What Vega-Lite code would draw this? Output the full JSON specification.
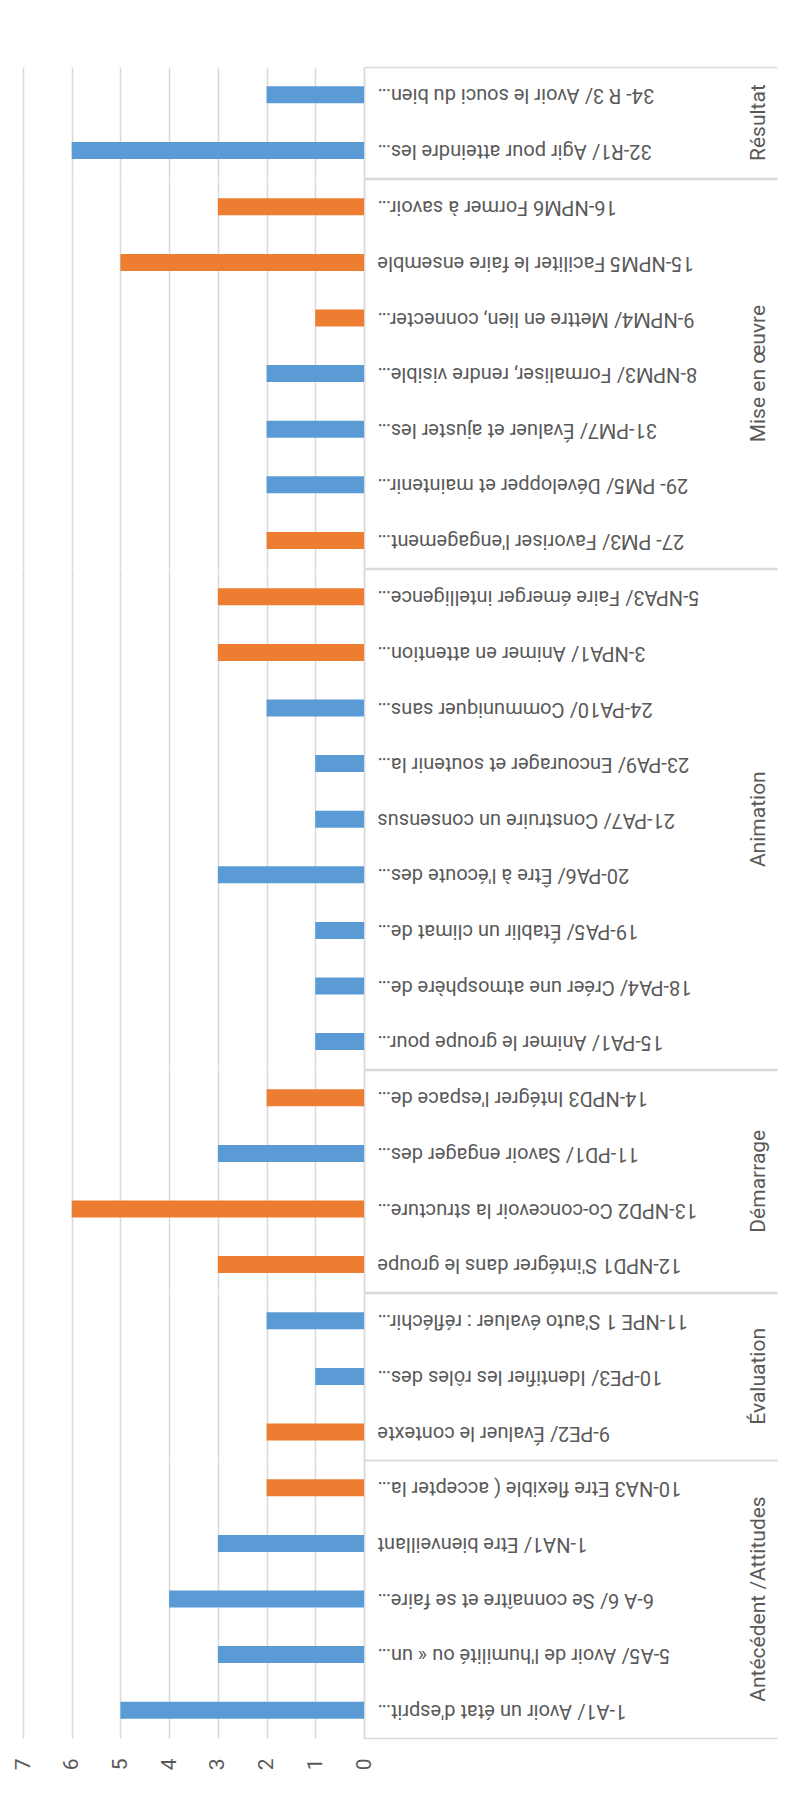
{
  "$schema": "https://vega.github.io/schema/vega-lite/v6.json",
  "background": "white",
  "padding": {"left": 12, "top": 57, "right": 0, "bottom": 0},
  "data": {
    "values": [
      {"etape": "Résultat", "critere": "34- R 3/ Avoir le souci du bien…", "serie": "Série 1", "valeur": 2},
      {"etape": "Résultat", "critere": "32-R1/ Agir pour atteindre les…", "serie": "Série 1", "valeur": 6},
      {"etape": "Mise en œuvre", "critere": "16-NPM6 Former à savoir…", "serie": "Série 2", "valeur": 3},
      {"etape": "Mise en œuvre", "critere": "15-NPM5 Faciliter le faire ensemble", "serie": "Série 2", "valeur": 5},
      {"etape": "Mise en œuvre", "critere": "9-NPM4/ Mettre en lien, connecter…", "serie": "Série 2", "valeur": 1},
      {"etape": "Mise en œuvre", "critere": "8-NPM3/ Formaliser, rendre visible…", "serie": "Série 1", "valeur": 2},
      {"etape": "Mise en œuvre", "critere": "31-PM7/ Évaluer et ajuster les…", "serie": "Série 1", "valeur": 2},
      {"etape": "Mise en œuvre", "critere": "29- PM5/ Développer et maintenir…", "serie": "Série 1", "valeur": 2},
      {"etape": "Mise en œuvre", "critere": "27- PM3/ Favoriser l'engagement…", "serie": "Série 2", "valeur": 2},
      {"etape": "Animation", "critere": "5-NPA3/ Faire émerger intelligence…", "serie": "Série 2", "valeur": 3},
      {"etape": "Animation", "critere": "3-NPA1/ Animer en attention…", "serie": "Série 2", "valeur": 3},
      {"etape": "Animation", "critere": "24-PA10/ Communiquer sans…", "serie": "Série 1", "valeur": 2},
      {"etape": "Animation", "critere": "23-PA9/ Encourager et soutenir la…", "serie": "Série 1", "valeur": 1},
      {"etape": "Animation", "critere": "21-PA7/ Construire un consensus", "serie": "Série 1", "valeur": 1},
      {"etape": "Animation", "critere": "20-PA6/ Être à l'écoute des…", "serie": "Série 1", "valeur": 3},
      {"etape": "Animation", "critere": "19-PA5/ Établir un climat de…", "serie": "Série 1", "valeur": 1},
      {"etape": "Animation", "critere": "18-PA4/ Créer une atmosphère de…", "serie": "Série 1", "valeur": 1},
      {"etape": "Animation", "critere": "15-PA1/ Animer le groupe pour…", "serie": "Série 1", "valeur": 1},
      {"etape": "Démarrage", "critere": "14-NPD3 Intégrer l'espace de…", "serie": "Série 2", "valeur": 2},
      {"etape": "Démarrage", "critere": "11-PD1/ Savoir engager des…", "serie": "Série 1", "valeur": 3},
      {"etape": "Démarrage", "critere": "13-NPD2 Co-concevoir la structure…", "serie": "Série 2", "valeur": 6},
      {"etape": "Démarrage", "critere": "12-NPD1 S'intégrer dans le groupe", "serie": "Série 2", "valeur": 3},
      {"etape": "Évaluation", "critere": "11-NPE 1 S'auto évaluer : réfléchir…", "serie": "Série 1", "valeur": 2},
      {"etape": "Évaluation", "critere": "10-PE3/ Identifier les rôles des…", "serie": "Série 1", "valeur": 1},
      {"etape": "Évaluation", "critere": "9-PE2/ Évaluer le contexte", "serie": "Série 2", "valeur": 2},
      {"etape": "Antécédent /Attitudes", "critere": "10-NA3 Etre flexible ( accepter la…", "serie": "Série 2", "valeur": 2},
      {"etape": "Antécédent /Attitudes", "critere": "1-NA1/ Etre bienveillant", "serie": "Série 1", "valeur": 3},
      {"etape": "Antécédent /Attitudes", "critere": "6-A 6/ Se connaître et se faire…", "serie": "Série 1", "valeur": 4},
      {"etape": "Antécédent /Attitudes", "critere": "5-A5/ Avoir de l'humilité ou « un…", "serie": "Série 1", "valeur": 3},
      {"etape": "Antécédent /Attitudes", "critere": "1-A1/ Avoir un état d'esprit…", "serie": "Série 1", "valeur": 5}
    ]
  },
  "facet": {
    "row": {
      "field": "etape",
      "type": "nominal",
      "sort": ["Résultat", "Mise en œuvre", "Animation", "Démarrage", "Évaluation", "Antécédent /Attitudes"],
      "header": {
        "title": null,
        "labelOrient": "right",
        "labelAngle": -90,
        "labelAlign": "center",
        "labelBaseline": "top",
        "labelPadding": 363,
        "labelFont": "Liberation Sans Narrow, Roboto, sans-serif",
        "labelFontSize": 21,
        "labelColor": "#595959"
      }
    }
  },
  "spacing": {"row": 0},
  "bounds": "flush",
  "resolve": {"scale": {"y": "independent"}},
  "spec": {
    "width": 341,
    "height": {"step": 55.6},
    "mark": {"type": "bar", "size": 17},
    "encoding": {
      "y": {
        "field": "critere",
        "type": "nominal",
        "sort": null,
        "scale": {"paddingInner": 0, "paddingOuter": 0},
        "axis": {
          "orient": "right",
          "title": null,
          "grid": false,
          "domainColor": "#d9d9d9",
          "domainWidth": 1.5,
          "tickBand": "extent",
          "tickSize": 413,
          "tickColor": "#d9d9d9",
          "tickWidth": 1.5,
          "tickOpacity": {"condition": {"test": "datum.index === -1 || datum.index === 1", "value": 1}, "value": 0},
          "labelAngle": 180,
          "labelAlign": "right",
          "labelBaseline": "middle",
          "labelPadding": -400,
          "labelLimit": 0,
          "labelFont": "Liberation Sans Narrow, Roboto, sans-serif",
          "labelFontSize": 20,
          "labelColor": "#595959"
        }
      },
      "x": {
        "field": "valeur",
        "type": "quantitative",
        "scale": {"domain": [0, 7], "reverse": true, "nice": false},
        "axis": {
          "title": null,
          "values": [0, 1, 2, 3, 4, 5, 6, 7],
          "domain": false,
          "ticks": false,
          "grid": true,
          "gridColor": "#d9d9d9",
          "gridWidth": 1.5,
          "labelAngle": -90,
          "labelPadding": 20,
          "labelFont": "Liberation Sans Narrow, Roboto, sans-serif",
          "labelFontSize": 21,
          "labelColor": "#595959"
        }
      },
      "color": {
        "field": "serie",
        "type": "nominal",
        "scale": {"domain": ["Série 1", "Série 2"], "range": ["#5B9BD5", "#ED7D31"]},
        "legend": null
      }
    }
  },
  "config": {"view": {"stroke": null}}
}
